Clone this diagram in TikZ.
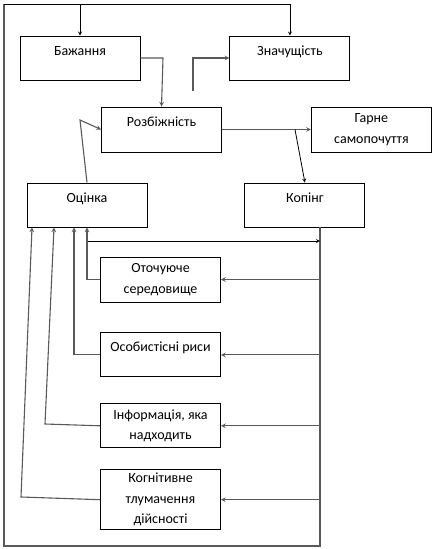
\documentclass[tikz,border=0pt]{standalone}
\usepackage{fontspec}
\setmainfont{Carlito}
\usetikzlibrary{arrows, positioning}

\begin{document}
\begin{tikzpicture}[
x=1pt, y=-1pt,
font=\fontsize{14}{20.5}\selectfont,
% Define block styles
box/.style = {rectangle, minimum width=120pt, minimum height=44pt, inner sep=0pt, align=center, draw=black, line width=0.9pt},
topbox/.style = {box, text height=10pt, text depth=16pt},
line/.style = {draw=black!65, line width=1.1pt},
darkline/.style = {draw=black, line width=0.8pt},
arrow/.style = {line, ->, >=stealth},
darkarrow/.style = {darkline, ->, >=stealth}
]
\useasboundingbox (0,0) rectangle (437,549);

% Nodes
\node (bazh) [topbox] at (80,58) {Бажання};
\node (znach) [topbox, right=89pt of bazh] {Значущість};
\node (rozb) [topbox, minimum height=45pt] at (161.5,129.5) {Розбіжність};
\node (harne) [box, minimum height=45pt, right=89pt of rozb] {Гарне\\самопочуття};
\node (otsinka) [topbox] at (87,205) {Оцінка};
\node (koping) [topbox, right=97pt of otsinka] {Копінг};

% Factors below
\node (otoch) [box, minimum height=45pt] at (160.5,279.5) {Оточуюче\\середовище};
\node (osob) [topbox, below=30pt of otoch] {Особистісні риси};
\node (inform) [box, below=26pt of osob] {Інформація, яка\\надходить};
\node (kognit) [box, minimum height=60pt, below=21pt of inform] {Когнітивне\\тлумачення\\дійсності};

% Helper points
\coordinate (topleft) at (4,4);
\coordinate (botleft) at (4,546);
\coordinate (koptop) at (320,227);
\coordinate (kopbot) at (320,546);
\coordinate (free) at (193,91);
\coordinate (branch) at (295,129.5);
\coordinate (split) at (87,241);

% Arrows
\draw [arrow] (bazh.east) -- (163,58) -- (rozb.north);
\draw [arrow] (free) -- (193,58) -- (znach.west);
\draw [arrow] (otsinka.north) -- (80,120) -- (rozb.west);
\draw [arrow] (rozb) -- (harne);
\draw [darkarrow] (branch) -- (koping.north);

% Feedback frame
\draw [line] (koptop) -- (kopbot) -- (botleft) -- (topleft);
\draw [darkarrow] (topleft) -| (bazh.north);
\draw [darkarrow] (topleft) -| (znach.north);

% Coping to factors
\draw [darkarrow] (split) -- (split -| koptop);
\draw [arrow] (otoch.east -| koptop) -- (otoch.east);
\draw [arrow] (osob.east -| koptop) -- (osob.east);
\draw [arrow] (inform.east -| koptop) -- (inform.east);
\draw [arrow] (kognit.east -| koptop) -- (kognit.east);

% Factors to appraisal
\draw [arrow] (otoch.west) -| (otsinka.south);
\draw [arrow] (osob.west) -| ([xshift=-13pt]otsinka.south);
\draw [arrow] (inform.west) -- (45,424) -- ([xshift=-33pt]otsinka.south);
\draw [arrow] (kognit.west) -- (21,497) -- ([xshift=-55pt]otsinka.south);
\end{tikzpicture}
\end{document}
